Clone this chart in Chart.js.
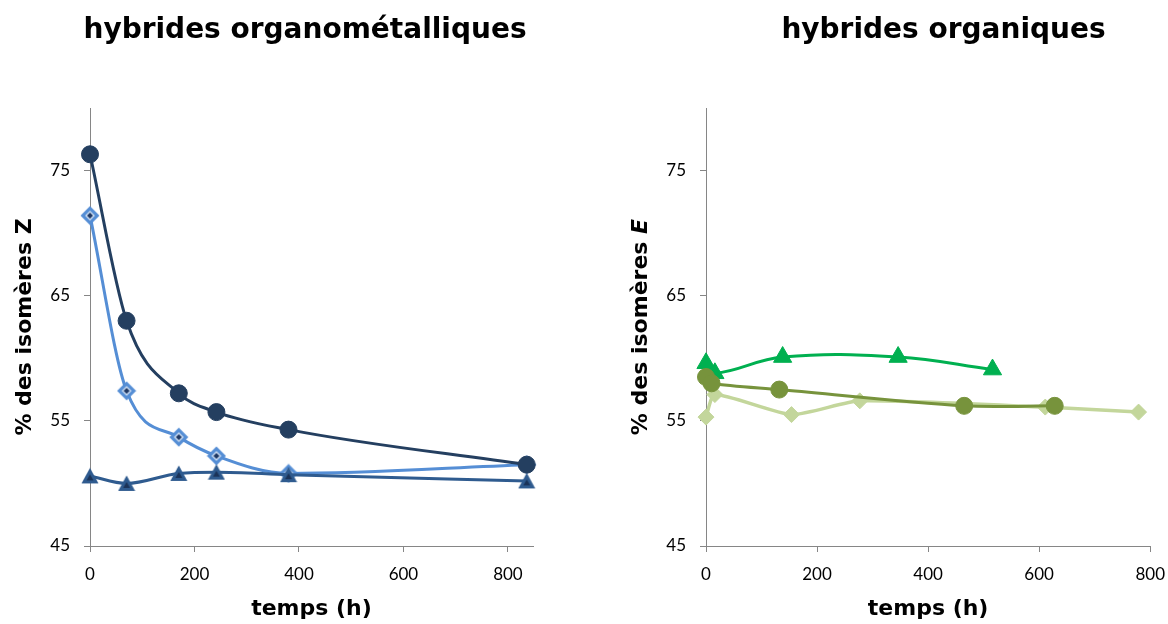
<!DOCTYPE html>
<html>
<head>
<meta charset="utf-8">
<script src="https://cdn.jsdelivr.net/npm/chart.js@4"></script>
<style>
  html, body { margin: 0; padding: 0; background: #fff; overflow: hidden; }
  body { width: 1168px; height: 624px; position: relative; }
  .box { position: absolute; top: 0; height: 624px; }
</style>
</head>
<body>
<div class="box" style="left:0; width:610px"><canvas id="left"></canvas></div>
<div class="box" style="left:620px; width:557px"><canvas id="right"></canvas></div>
<script>
// tick labels
const xTicks = [0, 200, 400, 600, 800];
const yTicks = [45, 55, 65, 75];

// texts
const leftTitle = 'hybrides organométalliques';
const rightTitle = 'hybrides organiques';
const xTitle = 'temps (h)';
const leftYTitle = ['% des isomères ', 'Z'];
const rightYTitle = ['% des isomères ', 'E'];

// hybrides organométalliques
const omCircleX = [0, 70, 170, 242, 380, 836];
const omCircleY = [76.3, 63.0, 57.2, 55.7, 54.3, 51.5];
const omDiamondX = [0, 70, 170, 242, 380, 836];
const omDiamondY = [71.4, 57.4, 53.7, 52.2, 50.8, 51.5];
const omTriangleX = [0, 70, 170, 242, 380, 836];
const omTriangleY = [50.6, 50.0, 50.8, 50.9, 50.7, 50.2];

// hybrides organiques
const orgCircleX = [0, 10, 132, 465, 628];
const orgCircleY = [58.5, 58.0, 57.5, 56.2, 56.2];
const orgTriangleX = [0, 16, 138, 346, 516];
const orgTriangleY = [59.6, 58.8, 60.1, 60.1, 59.1];
const orgDiamondX = [0, 16, 154, 277, 611, 779];
const orgDiamondY = [55.3, 57.1, 55.5, 56.6, 56.1, 55.7];

const zip = (xs, ys) => xs.map((x, i) => ({x: x, y: ys[i]}));

// marker images (Excel style, two-tone)
function diamondMarker() {
    const c = document.createElement('canvas');
    c.width = 20; c.height = 20;
    const g = c.getContext('2d');
    const dia = (r, col) => {
        g.beginPath();
        g.moveTo(10, 10 - r); g.lineTo(10 + r, 10); g.lineTo(10, 10 + r); g.lineTo(10 - r, 10);
        g.closePath(); g.fillStyle = col; g.fill();
    };
    dia(9.5, '#558ED5');
    dia(5, '#C9DAF0');
    dia(3, '#1F3864');
    return c;
}
function triangleMarker() {
    const c = document.createElement('canvas');
    c.width = 18; c.height = 17;
    const g = c.getContext('2d');
    g.beginPath(); g.moveTo(9, 0.5); g.lineTo(17.5, 16); g.lineTo(0.5, 16); g.closePath();
    g.fillStyle = '#2F5B8F'; g.fill();
    g.beginPath(); g.moveTo(9, 7); g.lineTo(12.5, 13); g.lineTo(5.5, 13); g.closePath();
    g.fillStyle = '#1B3358'; g.fill();
    return c;
}

// rotated y title with an italic last part, and the chart title
const textPlugin = {
    id: 'texts',
    afterDraw(chart, args, opts) {
        const ctx = chart.ctx;
        const a = chart.chartArea;
        ctx.save();
        ctx.fillStyle = '#000';
        ctx.textBaseline = 'middle';
        ctx.textAlign = 'center';
        ctx.font = 'bold 28px "DejaVu Sans"';
        ctx.fillText(opts.title, opts.titleX, 31);

        const fonts = opts.parts.map((p, i) => (opts.italic[i] ? 'italic ' : '') + 'bold 22px "DejaVu Sans"');
        const widths = opts.parts.map((p, i) => { ctx.font = fonts[i]; return ctx.measureText(p).width; });
        const total = widths.reduce((s, w) => s + w, 0);
        ctx.translate(opts.yx, (a.top + a.bottom) / 2);
        ctx.rotate(-Math.PI / 2);
        ctx.textAlign = 'left';
        let pos = -total / 2;
        opts.parts.forEach((p, i) => {
            ctx.font = fonts[i];
            ctx.fillText(p, pos, 0);
            pos += widths[i];
        });
        ctx.restore();
    }
};

function axes(xMax, yWidth) {
    const gray = '#868686';
    return {
        x: {
            type: 'linear', min: 0, max: xMax,
            afterBuildTicks: s => { s.ticks = xTicks.map(v => ({value: v})); },
            afterFit: s => { s.height = 78; },
            grid: { display: true, drawOnChartArea: false, drawTicks: true, tickLength: 6, color: gray },
            border: { display: true, color: gray, width: 1 },
            ticks: { color: '#000', font: { family: 'Lato', size: 17 }, padding: 12, maxRotation: 0 },
            title: { display: true, text: xTitle, color: '#000', font: { family: 'DejaVu Sans', size: 22, weight: 'bold' }, padding: { top: 0, bottom: 2 } }
        },
        y: {
            type: 'linear', min: 45, max: 80,
            afterBuildTicks: s => { s.ticks = yTicks.map(v => ({value: v})); },
            afterFit: s => { s.width = yWidth; },
            grid: { display: true, drawOnChartArea: false, drawTicks: true, tickLength: 6, color: gray },
            border: { display: true, color: gray, width: 1 },
            ticks: { color: '#000', font: { family: 'Lato', size: 17 }, padding: 14 }
        }
    };
}

const line = (data, color, width, point) => Object.assign({
    data: data, borderColor: color, borderWidth: width, showLine: true,
    clip: false, fill: false
}, point);

new Chart(document.getElementById('left').getContext('2d'), {
    type: 'scatter',
    data: {
        datasets: [
            line(zip(omCircleX, omCircleY), '#243F60', 3,
                { cubicInterpolationMode: 'monotone', pointStyle: 'circle', pointRadius: 8.5, pointBackgroundColor: '#243F60', pointBorderColor: '#243F60', pointBorderWidth: 1 }),
            line(zip(omTriangleX, omTriangleY), '#2F5B8F', 3,
                { cubicInterpolationMode: 'monotone', pointStyle: triangleMarker(), pointRadius: 8 }),
            line(zip(omDiamondX, omDiamondY), '#558ED5', 3,
                { cubicInterpolationMode: 'monotone', pointStyle: diamondMarker(), pointRadius: 8 })
        ]
    },
    options: {
        responsive: true, maintainAspectRatio: false, animation: false,
        layout: { padding: { left: 0, right: 77, top: 108, bottom: 0 } },
        scales: axes(848, 90),
        plugins: {
            legend: { display: false }, tooltip: { enabled: false },
            texts: { title: leftTitle, titleX: 305, yx: 25, parts: leftYTitle, italic: [false, false] }
        }
    },
    plugins: [textPlugin]
});

new Chart(document.getElementById('right').getContext('2d'), {
    type: 'scatter',
    data: {
        datasets: [
            line(zip(orgCircleX, orgCircleY), '#77933C', 3,
                { tension: 0.3, pointStyle: 'circle', pointRadius: 8.5, pointBackgroundColor: '#77933C', pointBorderColor: '#77933C', pointBorderWidth: 1 }),
            line(zip(orgTriangleX, orgTriangleY), '#00B050', 3,
                { tension: 0.4, pointStyle: 'triangle', pointRadius: 10.5, pointBackgroundColor: '#00B050', pointBorderColor: '#00B050', pointBorderWidth: 1 }),
            line(zip(orgDiamondX, orgDiamondY), '#C3D69B', 3.5,
                { tension: 0.2, pointStyle: 'rectRot', pointRadius: 8, pointBackgroundColor: '#C3D69B', pointBorderColor: '#C3D69B', pointBorderWidth: 1 })
        ]
    },
    options: {
        responsive: true, maintainAspectRatio: false, animation: false,
        layout: { padding: { left: 0, right: 18, top: 108, bottom: 0 } },
        scales: axes(800, 86),
        plugins: {
            legend: { display: false }, tooltip: { enabled: false },
            texts: { title: rightTitle, titleX: 323.5, yx: 21, parts: rightYTitle, italic: [false, true] }
        }
    },
    plugins: [textPlugin]
});
</script>
</body>
</html>
